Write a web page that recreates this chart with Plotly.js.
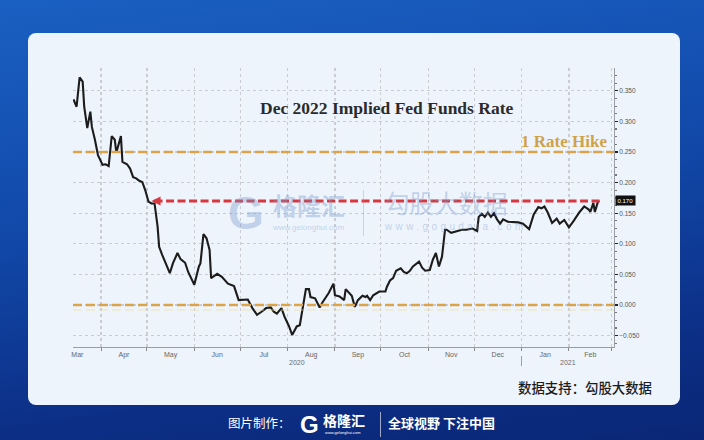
<!DOCTYPE html>
<html>
<head>
<meta charset="utf-8">
<script src="https://cdn.plot.ly/plotly-3.0.1.min.js"></script>
<style>
  html,body{margin:0;padding:0;width:704px;height:440px;overflow:hidden;}
  #bg{position:absolute;left:0;top:0;width:704px;height:440px;
      background:linear-gradient(172deg,#1a60c2 0%,#1148a8 45%,#0c2f86 80%,#0a2675 100%);}
  #card{position:absolute;left:28px;top:33px;width:652px;height:372px;border-radius:8px;background:#eef4fc;}
  #chart{position:absolute;left:0;top:0;width:704px;height:440px;}
  .wm{position:absolute;pointer-events:none;color:rgba(120,152,202,0.40);white-space:nowrap;line-height:1;}
  .t{position:absolute;white-space:nowrap;line-height:1;}
</style>
</head>
<body>
<div id="bg"></div>
<div id="card"></div>
<div id="chart"></div>

<!-- watermarks -->
<div class="wm" style="left:228px;top:190px;font-family:'Liberation Sans',Arial,sans-serif;font-weight:bold;font-size:46px;">G</div>
<div class="wm" style="left:273px;top:193px;height:24px;font-family:'Noto Sans CJK SC',sans-serif;font-weight:bold;font-size:24px;line-height:24px;">格隆汇</div>
<div class="wm" style="left:273px;top:224px;font-family:'Liberation Sans',Arial,sans-serif;font-size:8px;">www.gelonghui.com</div>
<div class="wm" style="left:363px;top:190px;width:1px;height:46px;background:rgba(120,152,202,0.35);"></div>
<div class="wm" style="left:385px;top:191px;font-family:'Noto Sans CJK SC',sans-serif;font-size:24.5px;">勾股大数据</div>
<div class="wm" style="left:385px;top:222px;font-family:'Liberation Sans',Arial,sans-serif;font-size:10px;letter-spacing:3.4px;">www.gogudata.com</div>

<!-- footer / source -->
<div class="t" style="right:52px;top:381px;font-family:'Noto Sans CJK SC',sans-serif;font-weight:500;font-size:13.4px;color:#1c1c1c;">数据支持：勾股大数据</div>
<div class="t" style="left:228px;top:417px;font-family:'Noto Sans CJK SC',sans-serif;font-size:12.5px;color:#ffffff;">图片制作：</div>
<div class="t" style="left:300px;top:413px;font-family:'Liberation Sans',Arial,sans-serif;font-weight:bold;font-size:24px;color:#ffffff;">G</div>
<div class="t" style="left:323px;top:413px;height:14px;font-family:'Noto Sans CJK SC',sans-serif;font-weight:bold;font-size:14px;line-height:14px;color:#ffffff;">格隆汇</div>
<div class="t" style="left:325px;top:431px;font-family:'Liberation Sans',Arial,sans-serif;font-size:4px;color:#ffffff;">www.gelonghui.com</div>
<div class="t" style="left:380px;top:412px;width:1px;height:25px;background:rgba(255,255,255,0.6);"></div>
<div class="t" style="left:388px;top:416px;font-family:'Noto Sans CJK SC',sans-serif;font-weight:bold;font-size:13px;color:#ffffff;">全球视野 下注中国</div>

<script>
// ---- data ----
const dates = [
'2020-03-14','2020-03-16','2020-03-18','2020-03-20','2020-03-21','2020-03-23','2020-03-25','2020-03-26','2020-03-28','2020-03-30',
'2020-04-02','2020-04-04','2020-04-06','2020-04-08','2020-04-10','2020-04-11','2020-04-14','2020-04-15','2020-04-18','2020-04-20','2020-04-22','2020-04-24','2020-04-26','2020-04-28','2020-04-30',
'2020-05-02','2020-05-04','2020-05-06','2020-05-08','2020-05-09','2020-05-11','2020-05-14','2020-05-16','2020-05-18','2020-05-21','2020-05-23','2020-05-26','2020-05-28','2020-05-30',
'2020-06-01','2020-06-04','2020-06-05','2020-06-07','2020-06-09','2020-06-11','2020-06-12','2020-06-16','2020-06-19','2020-06-23','2020-06-27','2020-06-30',
'2020-07-03','2020-07-06','2020-07-09','2020-07-12','2020-07-15','2020-07-18','2020-07-21','2020-07-23','2020-07-25','2020-07-28','2020-07-30',
'2020-08-02','2020-08-04','2020-08-07','2020-08-09','2020-08-11','2020-08-13','2020-08-15','2020-08-16','2020-08-19','2020-08-22','2020-08-24','2020-08-28','2020-08-31',
'2020-09-01','2020-09-04','2020-09-07','2020-09-08','2020-09-10','2020-09-12','2020-09-14','2020-09-16','2020-09-19','2020-09-21','2020-09-22','2020-09-24','2020-09-26','2020-09-28','2020-09-30',
'2020-10-04','2020-10-05','2020-10-07','2020-10-09','2020-10-11','2020-10-14','2020-10-16','2020-10-18','2020-10-20','2020-10-22','2020-10-26','2020-10-28','2020-10-30',
'2020-11-02','2020-11-04','2020-11-06','2020-11-08','2020-11-10','2020-11-12','2020-11-13','2020-11-16','2020-11-20','2020-11-23','2020-11-26','2020-11-30',
'2020-12-03','2020-12-04','2020-12-06','2020-12-08','2020-12-10','2020-12-12','2020-12-14','2020-12-16','2020-12-18','2020-12-20','2020-12-23','2020-12-27','2020-12-30',
'2021-01-02','2021-01-06','2021-01-09','2021-01-12','2021-01-14','2021-01-16','2021-01-18','2021-01-21','2021-01-24','2021-01-26','2021-01-29',
'2021-02-01','2021-02-04','2021-02-08','2021-02-11','2021-02-14','2021-02-15','2021-02-17','2021-02-18','2021-02-20','2021-02-21'
];
const impliedRate = [
0.336,0.324,0.372,0.365,0.324,0.289,0.316,0.291,0.270,0.245,
0.229,0.230,0.227,0.276,0.270,0.249,0.276,0.234,0.230,0.223,0.209,0.207,0.203,0.201,0.187,
0.169,0.166,0.166,0.128,0.095,0.082,0.063,0.052,0.068,0.085,0.075,0.069,0.054,0.044,
0.033,0.063,0.068,0.116,0.109,0.090,0.044,0.051,0.046,0.035,0.031,0.008,
0.009,0.009,-0.005,-0.016,-0.011,-0.005,-0.004,-0.011,-0.014,-0.005,-0.019,
-0.035,-0.049,-0.035,-0.033,-0.003,0.026,0.026,0.013,0.011,-0.004,0.005,0.020,0.035,
0.016,0.014,0.008,0.026,0.020,0.015,-0.003,0.008,0.015,0.013,0.015,0.008,0.016,0.019,0.022,
0.022,0.030,0.040,0.044,0.056,0.060,0.054,0.052,0.056,0.063,0.071,0.061,0.056,
0.057,0.074,0.085,0.063,0.079,0.123,0.123,0.118,0.121,0.123,0.123,0.125,
0.121,0.144,0.149,0.144,0.151,0.144,0.150,0.140,0.133,0.140,0.136,0.136,0.135,
0.133,0.124,0.148,0.160,0.158,0.161,0.152,0.134,0.141,0.133,0.139,
0.127,0.137,0.152,0.161,0.156,0.152,0.167,0.152,0.169,0.170
];
const hikeLevel = 0.25;        // "1 Rate Hike"
const zeroLevel = 0.0;
const currentLevel = 0.170;    // red dashed reference
const arrowTipDate = '2020-05-04';
const arrowEndDate = '2021-02-21';
const xRange = ['2020-03-13 16:00', '2021-03-02 12:00'];
const yRange = [-0.0686, 0.3873];
const yearLabels = ['2020', '2021'];
const titleText = 'Dec 2022 Implied Fed Funds Rate';
const hikeText = '1 Rate Hike';

// ---- layout helpers (pixel -> paper) ----
const L = 73, R = 90, T = 68, B = 93, W = 704, H = 440;
const pw = W - L - R, ph = H - T - B;
const pxX = p => (p - L) / pw;
const pxY = p => (H - B - p) / ph;

// year label centres: middle of each year's visible span
const t0 = new Date(xRange[0].replace(' ', 'T') + 'Z').getTime();
const t1 = new Date(xRange[1].replace(' ', 'T') + 'Z').getTime();
function iso(ms){ return new Date(ms).toISOString().slice(0,19).replace('T',' '); }
const yearAnn = yearLabels.map(y => {
  const a = Math.max(t0, Date.UTC(+y,0,1));
  const b = Math.min(t1, Date.UTC(+y+1,0,1));
  return {x: iso((a+b)/2), xref:'x', y: pxY(357), yref:'paper', yanchor:'top', text: y, showarrow:false,
          font:{family:'Liberation Sans, Arial, sans-serif', size:7, color:'#6a6a6a'}};
});

const orange = '#dba44a';
const red = '#d8373f';

const trace = {
  x: dates, y: impliedRate, type:'scatter', mode:'lines',
  line:{color:'#1c1c1c', width:2.1}, hoverinfo:'skip', showlegend:false
};

const layout = {
  width: W, height: H, autosize:false,
  margin:{l:L, r:R, t:T, b:B, pad:0},
  paper_bgcolor:'rgba(0,0,0,0)', plot_bgcolor:'rgba(0,0,0,0)',
  showlegend:false,
  xaxis:{
    type:'date', range:xRange, tick0:'2020-04-01', dtick:'M1',
    ticklabelmode:'period', tickformat:'%b', ticklabelstandoff:-2,
    showgrid:true, gridcolor:'#c9cdd3', griddash:'dot', gridwidth:1.2,
    ticks:'outside', ticklen:3, tickcolor:'#8a8a8a', tickwidth:1,
    showline:true, linecolor:'#9a9ea4', linewidth:1, zeroline:false,
    tickfont:{family:'Liberation Sans, Arial, sans-serif', size:7, color:'#666'}
  },
  yaxis:{
    side:'right', range:yRange, tick0:0, dtick:0.05, tickformat:'.3f',
    showgrid:true, gridcolor:'#c9cdd3', griddash:'dot', gridwidth:1.2,
    ticks:'outside', ticklen:3, tickcolor:'#222', tickwidth:1.2,
    minor:{ticks:'outside', ticklen:2, tickcolor:'#777', dtick:0.0125, showgrid:false},
    showline:true, linecolor:'#9a9ea4', linewidth:1, zeroline:false,
    tickfont:{family:'Liberation Sans, Arial, sans-serif', size:6.5, color:'#555'}
  },
  shapes:[
    {type:'line', xref:'paper', x0:0, x1:1, yref:'y', y0:hikeLevel, y1:hikeLevel,
     line:{color:orange, width:2.6, dash:'9px,4px'}},
    {type:'line', xref:'paper', x0:0, x1:1, yref:'y', y0:zeroLevel, y1:zeroLevel,
     line:{color:orange, width:2.6, dash:'9px,4px'}},
    {type:'line', xref:'paper', x0:0, x1:1, yref:'paper', y0:pxY(310), y1:pxY(310),
     line:{color:'rgba(236,218,150,0.45)', width:1.5, dash:'9px,4px'}},
    {type:'line', xref:'x', x0:'2020-05-06', x1:arrowEndDate, yref:'y', y0:currentLevel, y1:currentLevel,
     line:{color:red, width:3, dash:'8px,3.5px'}},
    {type:'line', xref:'x', x0:'2021-01-01', x1:'2021-01-01', yref:'paper', y0:pxY(356), y1:pxY(366),
     line:{color:'#a0a0a0', width:1}}
  ],
  annotations:[
    {x:pxX(386), y:pxY(108), xref:'paper', yref:'paper', showarrow:false,
     text:'<b>'+titleText+'</b>', xanchor:'center', yanchor:'middle',
     font:{family:'Liberation Serif, DejaVu Serif, serif', size:17.5, color:'#2b2b2b'}},
    {x:pxX(609), y:pxY(141), xref:'paper', yref:'paper', showarrow:false,
     text:'<b>'+hikeText+'</b>', xanchor:'right', yanchor:'middle',
     font:{family:'Liberation Serif, DejaVu Serif, serif', size:17, color:'#cfa24a'}},
    {x:arrowTipDate, y:currentLevel, xref:'x', yref:'y', text:'', showarrow:true,
     ax:10, ay:0, arrowhead:2, arrowsize:0.7, arrowwidth:2.6, arrowcolor:red, standoff:0},
    {x:1, y:currentLevel, xref:'paper', yref:'y', xanchor:'left', yanchor:'middle', xshift:1,
     text:currentLevel.toFixed(3), showarrow:false, bgcolor:'#111', borderpad:1.5,
     font:{family:'Liberation Sans, Arial, sans-serif', size:6, color:'#fff'}}
  ].concat(yearAnn)
};

Plotly.newPlot('chart', [trace], layout, {displayModeBar:false, staticPlot:true});
</script>
</body>
</html>
